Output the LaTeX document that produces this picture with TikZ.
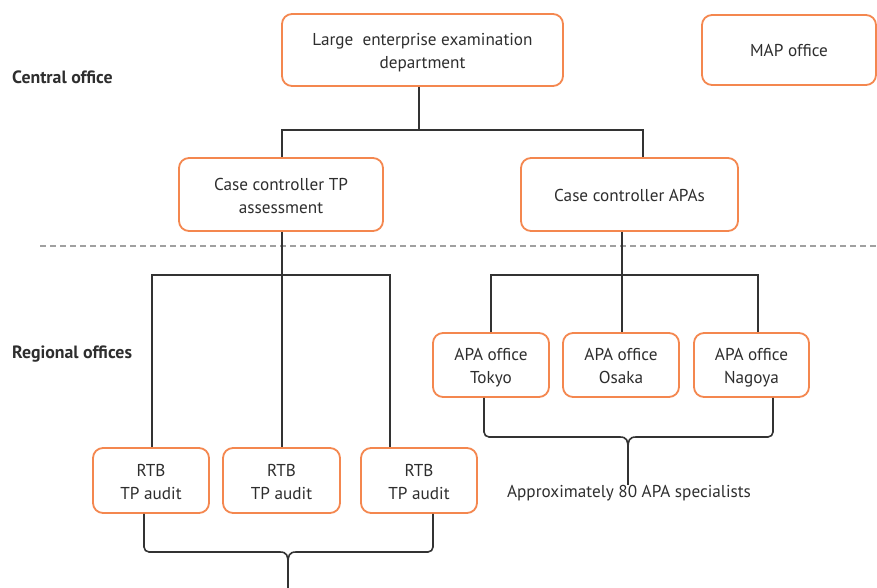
\documentclass[tikz,border=0pt]{standalone}
\usepackage{fontspec}
\setmainfont{PT Sans}
\usetikzlibrary{calc}
\definecolor{boxorange}{HTML}{F4874F}
\definecolor{linegray}{HTML}{333333}
\definecolor{txtgray}{HTML}{2E2E2E}
\definecolor{dashgray}{HTML}{A0A0A0}
\newcommand\hs{\rule[-4pt]{0pt}{22pt}}
\begin{document}
\begin{tikzpicture}[x=1pt,y=-1pt,
  box/.style={draw=boxorange,line width=1.8pt,rounded corners=10pt,fill=white,
    inner sep=0pt,align=center,text=txtgray,font=\fontsize{17.2}{21.5}\selectfont},
  conn/.style={draw=linegray,line width=1.8pt},
  brace/.style={draw=linegray,line width=1.6pt,rounded corners=5pt},
  lbl/.style={font=\bfseries\fontsize{17.8}{21}\selectfont,text=txtgray,anchor=west,inner sep=0pt}]
\useasboundingbox (0,0) rectangle (877,588);

% side labels
\node[lbl] (central) at (12,77.5) {Central office};
\node[lbl] (regional) at (12,354) {Regional offices};

% dashed separator
\coordinate (dL) at (40,246);
\coordinate (dR) at (877,246);
\draw[dashgray,line width=1.2pt,dash pattern=on 6pt off 4pt] (dL) -- (dR);

% boxes
\node[box,minimum width=281pt,minimum height=72pt] (lee) at (422.5,50) {\hs Large\ \ enterprise examination\\\hs department};
\node[box,minimum width=174pt,minimum height=70pt] (map) at (789,50) {\hs MAP office};
\node[box,minimum width=204pt,minimum height=73pt] (cctp) at (281,194.5) {\hs Case controller TP\\\hs assessment};
\node[box,minimum width=217pt,minimum height=73pt] (ccapa) at (629.5,194.5) {\hs Case controller APAs};

\node[box,minimum width=116pt,minimum height=65pt] (rtb1) at (151,480.5) {\hs RTB\\\hs TP audit};
\node[box,minimum width=117pt,minimum height=65pt] (rtb2) at (281.5,480.5) {\hs RTB\\\hs TP audit};
\node[box,minimum width=116pt,minimum height=65pt] (rtb3) at (419,480.5) {\hs RTB\\\hs TP audit};

\node[box,minimum width=116pt,minimum height=64pt] (tokyo) at (491,365) {\hs APA office\\\hs Tokyo};
\node[box,minimum width=116pt,minimum height=64pt] (osaka) at (621,365) {\hs APA office\\\hs Osaka};
\node[box,minimum width=115pt,minimum height=64pt] (nagoya) at (751.5,365) {\hs APA office\\\hs Nagoya};

\node[text=txtgray,font=\fontsize{17.2}{21}\selectfont,inner sep=0pt] (spec) at (629,493.5) {Approximately 80 APA specialists};

% central tree
\coordinate (bus1) at (419,130);
\coordinate (x1a) at (282,0);
\coordinate (x1b) at (643,0);
\draw[conn] (lee.south -| bus1) -- (bus1);
\draw[conn] (cctp.north -| x1a) |- (bus1) -| (ccapa.north -| x1b);

% TP tree
\coordinate (bus2) at (282,275);
\coordinate (x2a) at (152,0);
\coordinate (x2c) at (390,0);
\draw[conn] (cctp.south -| bus2) -- (bus2);
\draw[conn] (rtb1.north -| x2a) |- (bus2) -| (rtb3.north -| x2c);
\draw[conn] (bus2) -- (rtb2.north -| bus2);

% APA tree
\coordinate (bus3) at (622,275);
\coordinate (x3a) at (491,0);
\coordinate (x3c) at (758,0);
\draw[conn] (ccapa.south -| bus3) -- (bus3);
\draw[conn] (tokyo.north -| x3a) |- (bus3) -| (nagoya.north -| x3c);
\draw[conn] (bus3) -- (osaka.north -| bus3);

% brace under RTB boxes
\coordinate (r1) at (144,0);
\coordinate (r3) at (433,0);
\coordinate (rc) at (288,552);
\coordinate (rend) at (288,588);
\draw[brace] (rtb1.south -| r1) |- ($(rc)+(-8,0)$);
\draw[brace] (rtb3.south -| r3) |- ($(rc)+(8,0)$);
\draw[draw=linegray,line width=1.6pt] ($(rc)+(-8,0)$) .. controls ($(rc)+(-1,0)$) and ($(rc)+(0,4)$) .. ($(rc)+(0,11)$)
  .. controls ($(rc)+(0,4)$) and ($(rc)+(1,0)$) .. ($(rc)+(8,0)$);
\draw[draw=linegray,line width=1.6pt] ($(rc)+(0,10)$) -- (rend);

% brace under APA boxes
\coordinate (a1) at (484,0);
\coordinate (a3) at (773,0);
\coordinate (ac) at (628,437);
\draw[brace] (tokyo.south -| a1) |- ($(ac)+(-8,0)$);
\draw[brace] (nagoya.south -| a3) |- ($(ac)+(8,0)$);
\draw[draw=linegray,line width=1.6pt] ($(ac)+(-8,0)$) .. controls ($(ac)+(-1,0)$) and ($(ac)+(0,4)$) .. ($(ac)+(0,11)$)
  .. controls ($(ac)+(0,4)$) and ($(ac)+(1,0)$) .. ($(ac)+(8,0)$);
\draw[draw=linegray,line width=1.6pt] ($(ac)+(0,10)$) -- (spec.north -| ac);
\end{tikzpicture}
\end{document}
